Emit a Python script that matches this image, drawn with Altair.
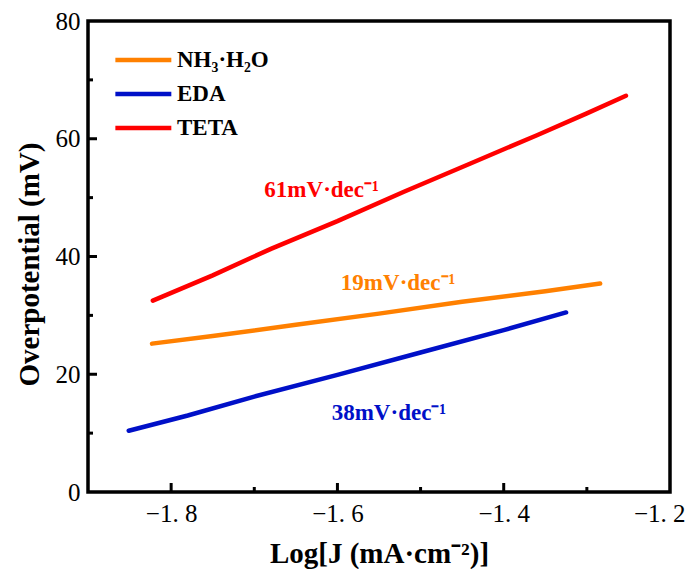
import altair as alt
import pandas as pd

# ---- data ----
series_names = ["NH₃·H₂O", "EDA", "TETA"]
series_colors = ["#FF8000", "#0010C8", "#FF0000"]

nh3_x = [-1.823, -1.75, -1.65, -1.55, -1.45, -1.35, -1.284]
nh3_y = [25.2, 26.5, 28.4, 30.3, 32.3, 34.1, 35.4]

eda_x = [-1.851, -1.78, -1.70, -1.60, -1.50, -1.40, -1.325]
eda_y = [10.4, 13.0, 16.2, 19.9, 23.7, 27.5, 30.5]

teta_x = [-1.822, -1.75, -1.68, -1.60, -1.52, -1.44, -1.36, -1.30, -1.253]
teta_y = [32.5, 36.8, 41.3, 46.0, 51.0, 55.8, 60.6, 64.3, 67.3]

annot_text = ["19mV·dec⁻¹", "38mV·dec⁻¹", "61mV·dec⁻¹"]
annot_x = [-1.527, -1.538, -1.619]
annot_y = [35.5, 13.4, 51.3]

x_major = [-1.8, -1.6, -1.4]
x_minor = [-1.7, -1.5, -1.3]
x_labels = [-1.8, -1.6, -1.4, -1.2]
y_major = [20, 40, 60]
y_minor = [10, 30, 50, 70]
y_labels = [0, 20, 40, 60, 80]

X_DOMAIN = [-1.9, -1.2]
Y_DOMAIN = [0, 80]

W, H = 582, 471
FONT = "Liberation Serif"

rows = []
for name, xs, ys in [(series_names[0], nh3_x, nh3_y),
                     (series_names[1], eda_x, eda_y),
                     (series_names[2], teta_x, teta_y)]:
    for i, (a, b) in enumerate(zip(xs, ys)):
        rows.append({"series": name, "x": a, "y": b, "order": i})
df = pd.DataFrame(rows)

xscale = alt.Scale(domain=X_DOMAIN, nice=False, zero=False)
yscale = alt.Scale(domain=Y_DOMAIN, nice=False, zero=False)

x_axis = alt.Axis(
    values=x_labels, title="Log[J (mA·cm⁻²)]", grid=False, ticks=False, domain=False,
    labelFont=FONT, labelFontSize=25, labelColor="black", labelPadding=9,
    labelExpr="replace(replace(format(datum.value, '.1f'), '-', '−'), '.', '. ')",
    labelAlign={"condition": {"test": "datum.value > -1.25", "value": "right"}, "value": "center"},
    labelOffset={"condition": {"test": "datum.value > -1.25", "value": 15}, "value": 0},
    labelFlush=False, labelOverlap=False,
    titleFont=FONT, titleFontSize=29, titleFontWeight="bold", titleColor="black",
    titleX=291, titleY=61, titleBaseline="middle", titleAnchor="middle",
)
y_axis = alt.Axis(
    values=y_labels, title="Overpotential (mV)", grid=False, ticks=False, domain=False,
    labelFont=FONT, labelFontSize=25, labelColor="black", labelPadding=8,
    labelFlush=False, labelOverlap=False,
    titleFont=FONT, titleFontSize=29, titleFontWeight="bold", titleColor="black",
    titleAngle=270, titleX=-59, titleY=243, titleBaseline="middle", titleAlign="center",
)

lines = alt.Chart(df).mark_line(strokeWidth=4.5, strokeCap="round").encode(
    x=alt.X("x:Q", scale=xscale, axis=x_axis),
    y=alt.Y("y:Q", scale=yscale, axis=y_axis),
    color=alt.Color(
        "series:N",
        scale=alt.Scale(domain=series_names, range=series_colors),
        sort=series_names,
        legend=alt.Legend(
            title=None, orient="none", legendX=62, legendY=27,
            symbolType="M-5,0L1,0", symbolSize=348, symbolStrokeWidth=4.5,
            symbolFillColor="transparent",
            labelFont=FONT, labelFontSize=23, labelFontWeight="bold", labelColor="black",
            labelOffset=3, rowPadding=10, padding=0,
        ),
    ),
    order="order:Q",
)

annot_df = pd.DataFrame({"text": annot_text, "x": annot_x, "y": annot_y,
                         "series": series_names})
annots = alt.Chart(annot_df).mark_text(
    font=FONT, fontSize=23, fontWeight="bold", align="center", baseline="middle"
).encode(
    x=alt.X("x:Q", scale=xscale),
    y=alt.Y("y:Q", scale=yscale),
    text="text:N",
    color=alt.Color("series:N", scale=alt.Scale(domain=series_names, range=series_colors),
                    legend=None),
)

# inward ticks
xmaj = alt.Chart(pd.DataFrame({"v": x_major})).mark_rule(color="black", strokeWidth=3).encode(
    x=alt.X("v:Q", scale=xscale), y=alt.value(H), y2=alt.value(H - 9))
xmin = alt.Chart(pd.DataFrame({"v": x_minor})).mark_rule(color="black", strokeWidth=3).encode(
    x=alt.X("v:Q", scale=xscale), y=alt.value(H), y2=alt.value(H - 5))
ymaj = alt.Chart(pd.DataFrame({"v": y_major})).mark_rule(color="black", strokeWidth=3).encode(
    y=alt.Y("v:Q", scale=yscale), x=alt.value(0), x2=alt.value(9))
ymin = alt.Chart(pd.DataFrame({"v": y_minor})).mark_rule(color="black", strokeWidth=3).encode(
    y=alt.Y("v:Q", scale=yscale), x=alt.value(0), x2=alt.value(5))

chart = alt.layer(lines, annots, xmaj, xmin, ymaj, ymin).resolve_scale(
    color="independent"
).properties(
    width=W, height=H,
    background="white",
    autosize=alt.AutoSizeParams(type="none"),
    padding={"left": 80, "top": 13, "right": 16, "bottom": 77},
).configure_view(
    stroke="black", strokeWidth=3.5
)

chart.save("out.html", embed_options={"renderer": "svg", "actions": False})
